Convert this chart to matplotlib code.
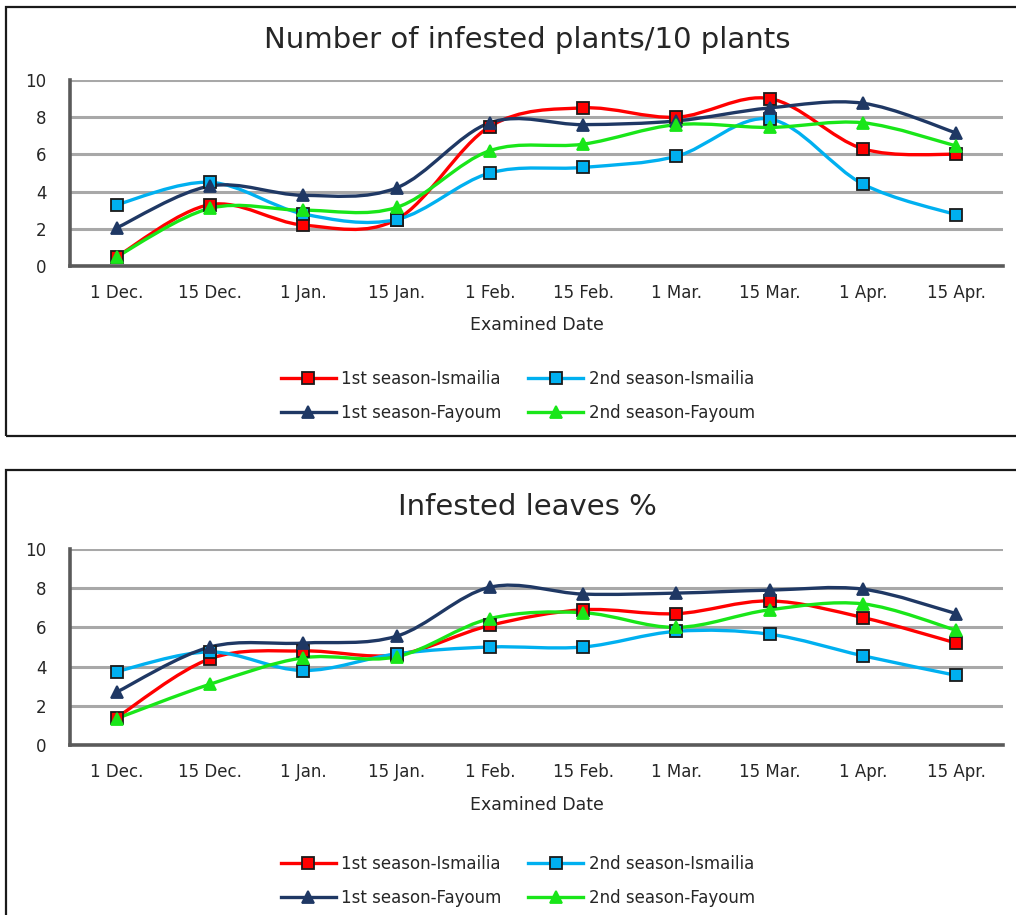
import matplotlib
matplotlib.use("Agg")
import matplotlib.pyplot as plt
from matplotlib.path import Path
from matplotlib.patches import PathPatch, Rectangle
from matplotlib.lines import Line2D

dates = ["1 Dec.", "15 Dec.", "1 Jan.", "15 Jan.", "1 Feb.",
         "15 Feb.", "1 Mar.", "15 Mar.", "1 Apr.", "15 Apr."]
series_names = ["1st season-Ismailia", "2nd season-Ismailia",
                "1st season-Fayoum", "2nd season-Fayoum"]

# top chart: number of infested plants / 10 plants
plants_ism1 = [0.5, 3.3, 2.2, 2.5, 7.5, 8.5, 8.0, 9.0, 6.3, 6.0]
plants_ism2 = [3.3, 4.5, 2.8, 2.5, 5.0, 5.3, 5.9, 7.9, 4.4, 2.75]
plants_fay1 = [2.05, 4.3, 3.8, 4.2, 7.7, 7.6, 7.8, 8.5, 8.75, 7.15]
plants_fay2 = [0.5, 3.1, 3.0, 3.15, 6.2, 6.55, 7.6, 7.45, 7.7, 6.45]

# bottom chart: infested leaves %
leaves_ism1 = [1.4, 4.4, 4.8, 4.6, 6.1, 6.9, 6.7, 7.35, 6.5, 5.2]
leaves_ism2 = [3.75, 4.75, 3.8, 4.65, 5.0, 5.0, 5.8, 5.65, 4.55, 3.55]
leaves_fay1 = [2.7, 5.0, 5.2, 5.55, 8.05, 7.7, 7.75, 7.9, 7.95, 6.7]
leaves_fay2 = [1.35, 3.1, 4.45, 4.5, 6.45, 6.75, 6.0, 6.9, 7.2, 5.85]

colors = ["#ff0000", "#00b0f0", "#1f3864", "#19e619"]
markers = ["s", "s", "^", "^"]
edges = ["#1a1a1a", "#1a1a1a", "#1f3864", "#19e619"]
text_color = "#262626"

W, H = 1016, 915


def smooth_path(xs, ys):
    # Excel-style smoothed line: cubic Bezier between each pair of points
    n = len(xs)
    verts = [(xs[0], ys[0])]
    codes = [Path.MOVETO]
    for i in range(n - 1):
        x0, y0 = xs[max(i - 1, 0)], ys[max(i - 1, 0)]
        x1, y1 = xs[i], ys[i]
        x2, y2 = xs[i + 1], ys[i + 1]
        x3, y3 = xs[min(i + 2, n - 1)], ys[min(i + 2, n - 1)]
        c1 = (x1 + (x2 - x0) / 6, y1 + (y2 - y0) / 6)
        c2 = (x2 - (x3 - x1) / 6, y2 - (y3 - y1) / 6)
        verts += [c1, c2, (x2, y2)]
        codes += [Path.CURVE4] * 3
    return Path(verts, codes)


def draw_panel(fig, box_top, box_bottom, ax_top, ax_bottom, title, title_y,
               xlabel_y, leg_y, data):
    fig.patches.append(Rectangle((6 / W, 1 - box_bottom / H), 1.2,
                                 (box_bottom - box_top) / H,
                                 transform=fig.transFigure, fill=False,
                                 edgecolor="#1a1a1a", lw=1.6))
    ax = fig.add_axes([70 / W, 1 - ax_bottom / H, 933 / W,
                       (ax_bottom - ax_top) / H])
    x = list(range(len(dates)))
    handles = []
    for vals, c, m, ec, name in zip(data, colors, markers, edges, series_names):
        ax.add_patch(PathPatch(smooth_path(x, vals), fill=False,
                               edgecolor=c, lw=2.4, zorder=3,
                               capstyle="round", joinstyle="round"))
        ax.plot(x, vals, linestyle="none", marker=m, markersize=9,
                markerfacecolor=c, markeredgecolor=ec, markeredgewidth=1.3,
                zorder=4)
        handles.append(Line2D([], [], color=c, lw=2.4, marker=m,
                              markersize=8, markerfacecolor=c,
                              markeredgecolor=ec, markeredgewidth=1.3))
    ax.set_xlim(-0.5, len(dates) - 0.5)
    ax.set_ylim(0, 10)
    ax.set_yticks([0, 2, 4, 6, 8, 10])
    ax.set_xticks(x)
    ax.set_xticklabels(dates)
    ax.grid(axis="y", color="#a8a8a8", lw=2.2)
    ax.set_axisbelow(True)
    for s in ("top", "right"):
        ax.spines[s].set_visible(False)
    for s in ("left", "bottom"):
        ax.spines[s].set_color("#5a5a5a")
        ax.spines[s].set_linewidth(2.6)
    ax.tick_params(length=0, labelsize=12, colors=text_color)
    ax.tick_params(axis="x", pad=13)
    ax.tick_params(axis="y", pad=17)
    fig.text(527 / W, 1 - title_y / H, title, ha="center", va="center",
             fontsize=21, color=text_color)
    fig.text(537 / W, 1 - xlabel_y / H, "Examined Date", ha="center",
             va="center", fontsize=12.5, color=text_color)
    order = [0, 2, 1, 3]
    fig.legend([handles[i] for i in order], [series_names[i] for i in order],
               loc="center", bbox_to_anchor=(518 / W, 1 - leg_y / H),
               ncol=2, frameon=False, fontsize=12, handlelength=3.3,
               columnspacing=1.6, handletextpad=0.35, labelspacing=0.95,
               labelcolor=text_color)
    return ax


fig = plt.figure(figsize=(W / 100, H / 100), dpi=100)
draw_panel(fig, 7, 436, 80, 266, "Number of infested plants/10 plants", 40,
           325, 396, [plants_ism1, plants_ism2, plants_fay1, plants_fay2])
draw_panel(fig, 470, 930, 549, 745, "Infested leaves %", 507,
           805, 881, [leaves_ism1, leaves_ism2, leaves_fay1, leaves_fay2])
fig.savefig("out.png", dpi=100)
